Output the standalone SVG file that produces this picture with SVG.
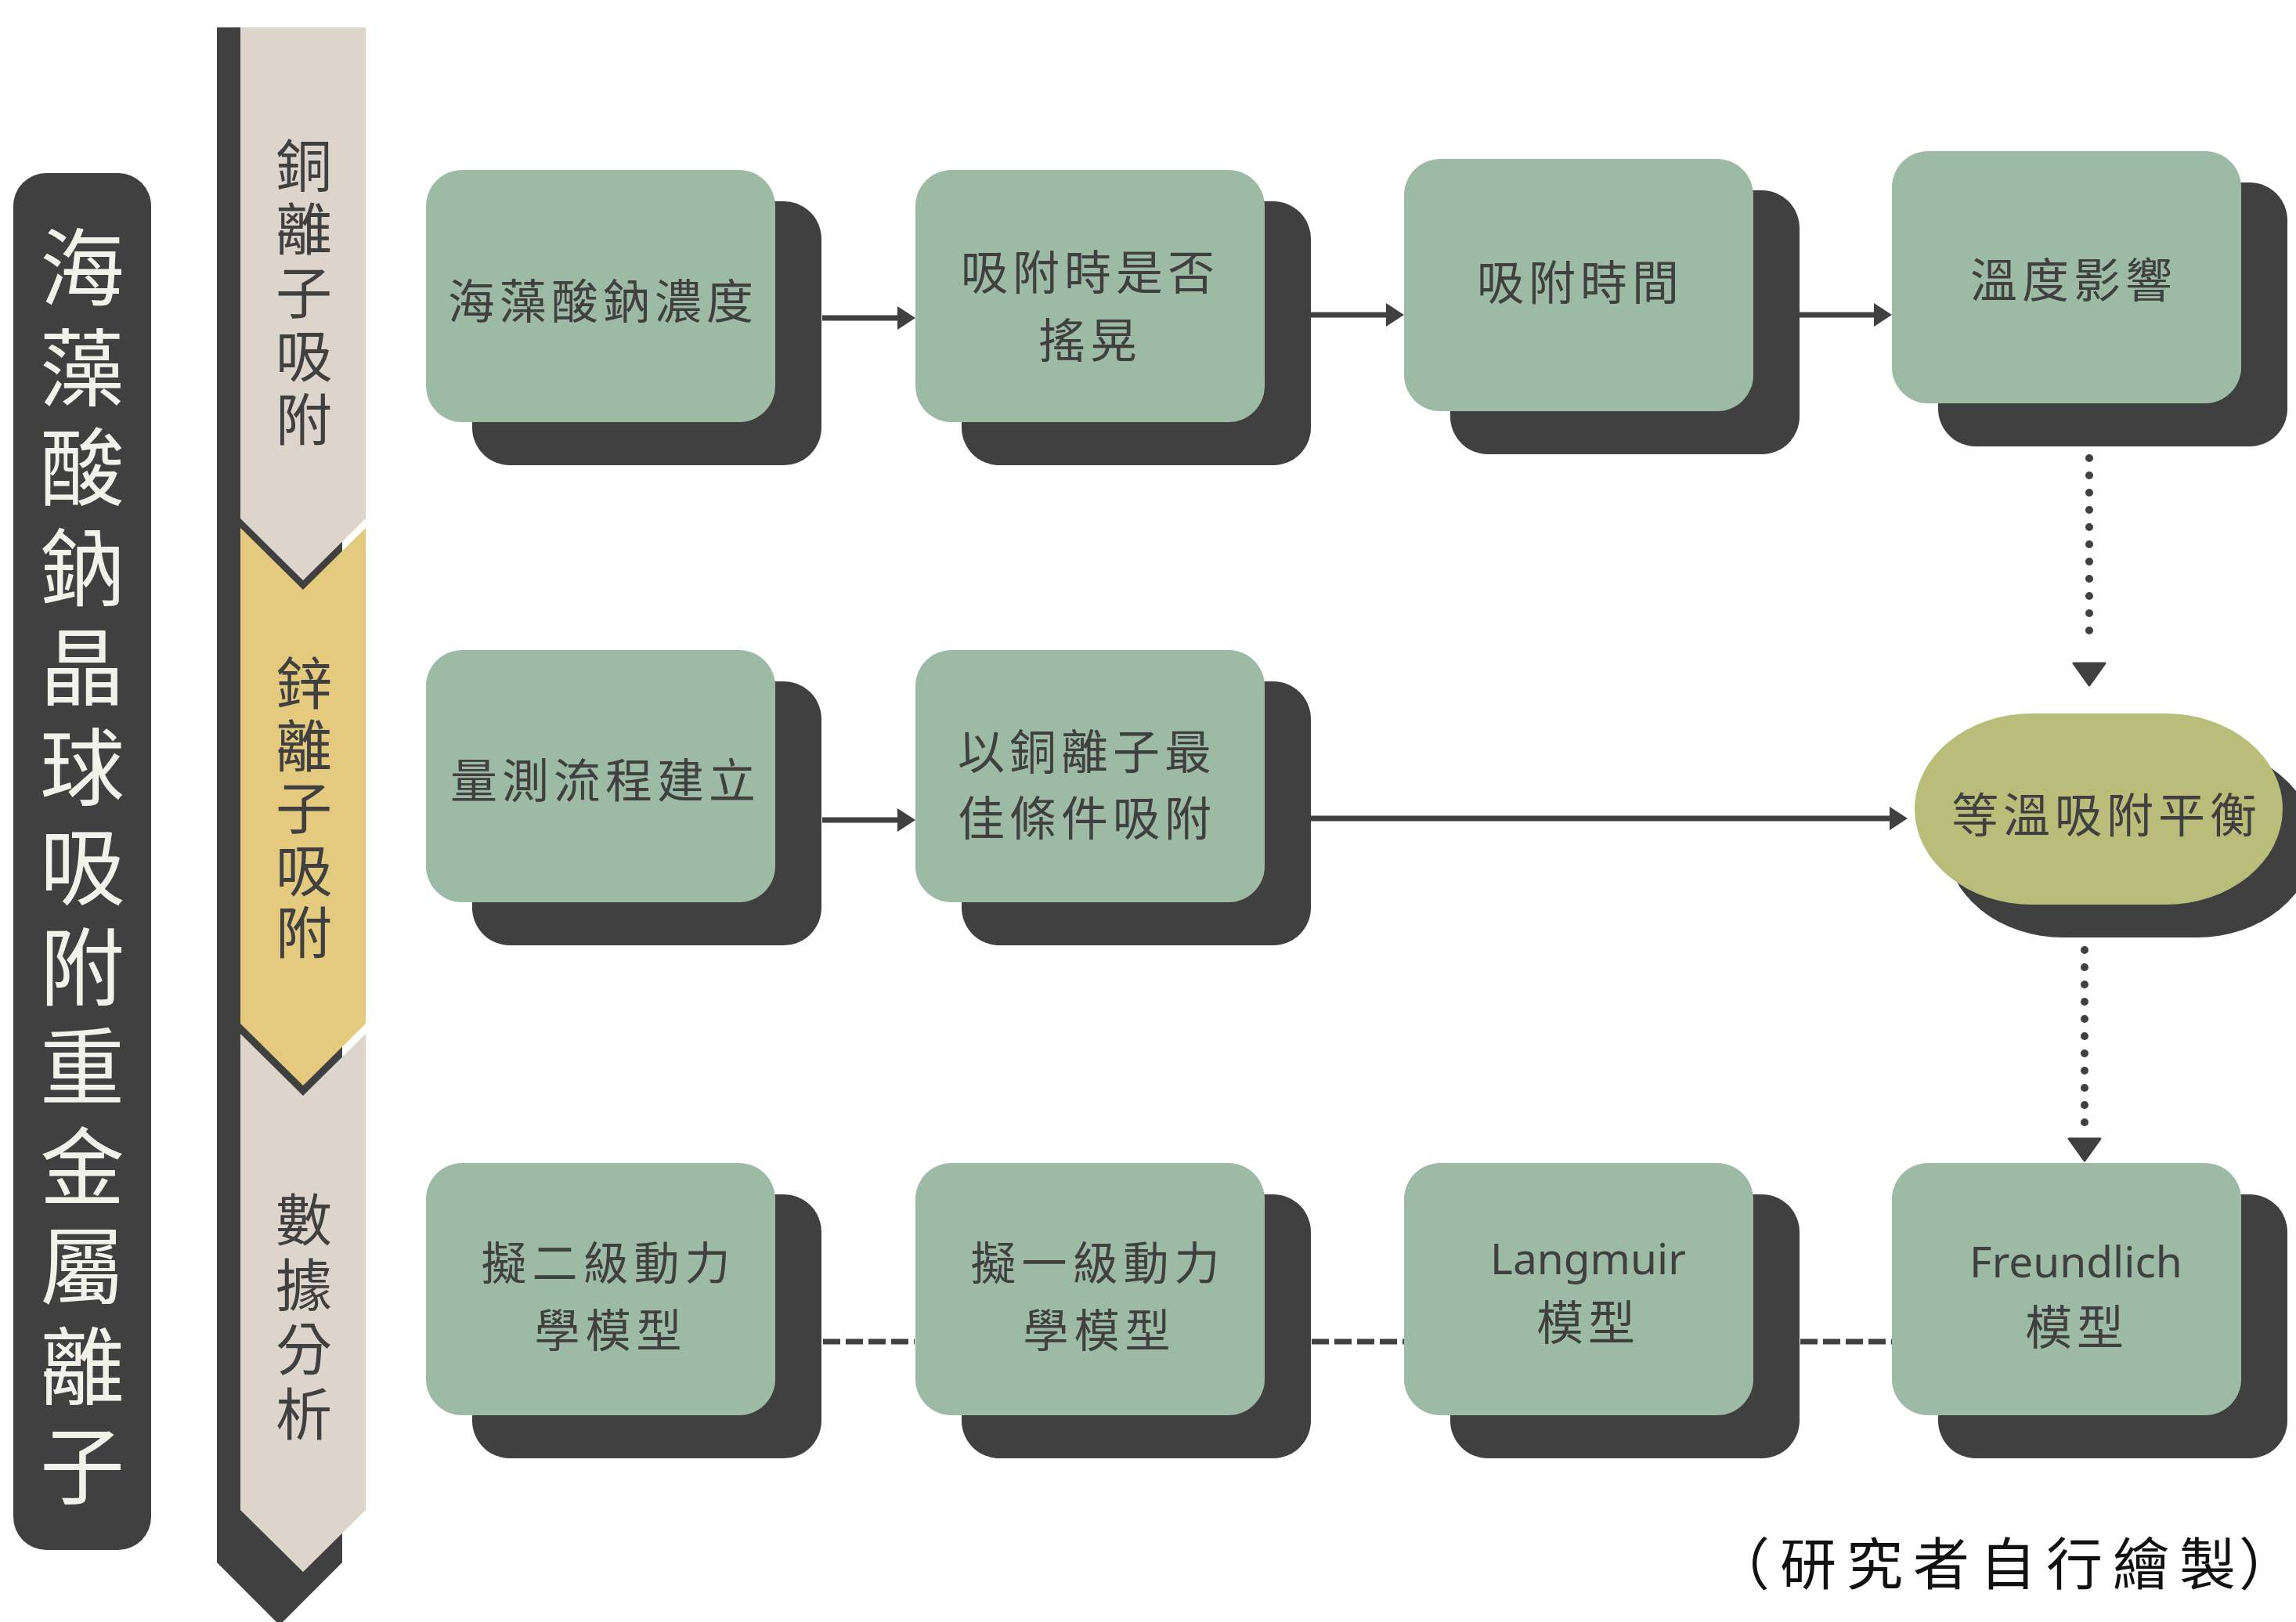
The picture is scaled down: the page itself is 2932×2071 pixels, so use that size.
<svg xmlns="http://www.w3.org/2000/svg" width="2932" height="2071" viewBox="0 0 2932 2071">
<style>
.shadow{fill:#404040}
.box{fill:#9DBAA4}
.oval{fill:#BABD7A}
.lbl{font-family:"Noto Sans CJK TC","Noto Sans CJK SC",sans-serif;font-size:60px;fill:#404040;letter-spacing:6px;text-anchor:middle;dominant-baseline:central}
.sm{font-size:58px;letter-spacing:7px}
.lat{font-family:"Noto Sans","Open Sans",sans-serif;font-size:55px;letter-spacing:0px;dominant-baseline:alphabetic}
.title{font-family:"Noto Sans CJK TC","Noto Sans CJK SC",sans-serif;font-size:108px;fill:#F2F1EA;text-anchor:middle;dominant-baseline:central}
.sec{font-family:"Noto Sans CJK TC","Noto Sans CJK SC",sans-serif;font-size:72px;fill:#404040;text-anchor:middle;dominant-baseline:central}
.cap{font-family:"Noto Sans CJK TC","Noto Sans CJK SC",serif;font-size:72px;fill:#111111;text-anchor:middle;dominant-baseline:central}
.solid{stroke:#404040;stroke-width:7;fill:none}
.dot{stroke:#404040;stroke-width:10;stroke-linecap:round;stroke-dasharray:0 22;fill:none}
.dash{stroke:#404040;stroke-width:7;stroke-dasharray:22 7;fill:none}
</style>
<defs>
<marker id="arrow" viewBox="0 0 23 30" refX="0" refY="15" markerWidth="23" markerHeight="30" markerUnits="userSpaceOnUse" orient="auto">
<path d="M0,0 L23,15 L0,30 Z" fill="#404040"/>
</marker>
<marker id="arrowDot" viewBox="-20 0 52 44" refX="-19" refY="22" markerWidth="52" markerHeight="44" markerUnits="userSpaceOnUse" orient="auto">
<path d="M1,2 L29,22 L1,42 Z" fill="#404040" stroke="#404040" stroke-width="3" stroke-linejoin="round"/>
</marker>
</defs>
<rect width="2932" height="2071" fill="#FFFFFF"/>

<g id="title-bar">
<rect x="17" y="221" width="176" height="1758" rx="42" fill="#404040"/>
<text class="title" x="105 105 105 105 105 105 105 105 105 105 105 105 105" y="335 462.5 590 717.5 845 972.5 1100 1227.5 1355 1482.5 1610 1737.5 1865">海藻酸鈉晶球吸附重金屬離子</text>
</g>

<g id="timeline">
<polygon points="277,35 437,35 437,1995 357,2075 277,1995" fill="#404040"/>
<g id="stage-copper">
<polygon points="307,35 467,35 467,662 387,741 307,662" fill="#DDD5CC"/>
<text class="sec" x="388 388 388 388 388" y="206 287 368 449 530">銅離子吸附</text>
</g>
<g id="stage-zinc">
<polygon points="307,674 387,753 467,674 467,1307 387,1386 307,1307" fill="#E3CA7E"/>
<text class="sec" x="388 388 388 388 388" y="867 947 1026 1106 1185">鋅離子吸附</text>
</g>
<g id="stage-data">
<polygon points="307,1320 387,1399 467,1320 467,1928 387,2007 307,1928" fill="#DDD5CC"/>
<text class="sec" x="388 388 388 388" y="1552 1635 1717 1800">數據分析</text>
</g>
</g>

<g id="connectors">
<path class="solid" d="M1050,406 H1146" marker-end="url(#arrow)"/>
<path class="solid" d="M1674,402 H1770" marker-end="url(#arrow)"/>
<path class="solid" d="M2298,402 H2393" marker-end="url(#arrow)"/>
<path class="solid" d="M1050,1047 H1146" marker-end="url(#arrow)"/>
<path class="solid" d="M1674,1045 H2413" marker-end="url(#arrow)"/>
<path class="dot" d="M2668,585 V827" marker-end="url(#arrowDot)"/>
<path class="dot" d="M2662,1213 V1434" marker-end="url(#arrowDot)"/>
<path class="dash" d="M1051,1713 H1168"/>
<path class="dash" d="M1675,1713 H1793"/>
<path class="dash" d="M2299,1713 H2416"/>
</g>

<g id="n1">
<rect class="shadow" x="603" y="257" width="446" height="337" rx="48"/>
<rect class="box" x="544" y="217" width="446" height="322" rx="46"/>
<text class="lbl" x="770" y="380">海藻酸鈉濃度</text>
</g>
<g id="n2">
<rect class="shadow" x="1228" y="257" width="446" height="337" rx="48"/>
<rect class="box" x="1169" y="217" width="446" height="322" rx="46"/>
<text class="lbl"><tspan x="1392" y="343">吸附時是否</tspan><tspan x="1392" y="430">搖晃</tspan></text>
</g>
<g id="n3">
<rect class="shadow" x="1852" y="243" width="446" height="337" rx="48"/>
<rect class="box" x="1793" y="203" width="446" height="322" rx="46"/>
<text class="lbl" x="2018" y="356">吸附時間</text>
</g>
<g id="n4">
<rect class="shadow" x="2475" y="233" width="446" height="337" rx="48"/>
<rect class="box" x="2416" y="193" width="446" height="322" rx="46"/>
<text class="lbl" x="2648" y="353">溫度影響</text>
</g>
<g id="n5">
<rect class="shadow" x="603" y="870" width="446" height="337" rx="48"/>
<rect class="box" x="544" y="830" width="446" height="322" rx="46"/>
<text class="lbl" x="773" y="992">量測流程建立</text>
</g>
<g id="n6">
<rect class="shadow" x="1228" y="870" width="446" height="337" rx="48"/>
<rect class="box" x="1169" y="830" width="446" height="322" rx="46"/>
<text class="lbl"><tspan x="1388" y="955">以銅離子最</tspan><tspan x="1388" y="1040">佳條件吸附</tspan></text>
</g>
<g id="n7">
<rect class="shadow" x="2485" y="953" width="470" height="244" rx="150" ry="122"/>
<rect class="oval" x="2445" y="911" width="470" height="244" rx="150" ry="122"/>
<text class="lbl" x="2690" y="1036">等溫吸附平衡</text>
</g>
<g id="n8">
<rect class="shadow" x="603" y="1525" width="446" height="337" rx="48"/>
<rect class="box" x="544" y="1485" width="446" height="322" rx="46"/>
<text class="lbl sm"><tspan x="777" y="1609">擬二級動力</tspan><tspan x="780" y="1695">學模型</tspan></text>
</g>
<g id="n9">
<rect class="shadow" x="1228" y="1525" width="446" height="337" rx="48"/>
<rect class="box" x="1169" y="1485" width="446" height="322" rx="46"/>
<text class="lbl sm"><tspan x="1402" y="1609">擬一級動力</tspan><tspan x="1404" y="1695">學模型</tspan></text>
</g>
<g id="n10">
<rect class="shadow" x="1852" y="1525" width="446" height="337" rx="48"/>
<rect class="box" x="1793" y="1485" width="446" height="322" rx="46"/>
<text class="lbl"><tspan class="lat" x="2028" y="1626">Langmuir</tspan><tspan x="2028" y="1684">模型</tspan></text>
</g>
<g id="n11">
<rect class="shadow" x="2475" y="1525" width="446" height="337" rx="48"/>
<rect class="box" x="2416" y="1485" width="446" height="322" rx="46"/>
<text class="lbl"><tspan class="lat" x="2651" y="1630">Freundlich</tspan><tspan x="2652" y="1690">模型</tspan></text>
</g>

<text id="caption" class="cap" x="2224 2309 2394 2479 2564 2649 2734 2819 2895" y="1991 1991 1991 1991 1991 1991 1991 1991 1991">（研究者自行繪製）</text>
</svg>
